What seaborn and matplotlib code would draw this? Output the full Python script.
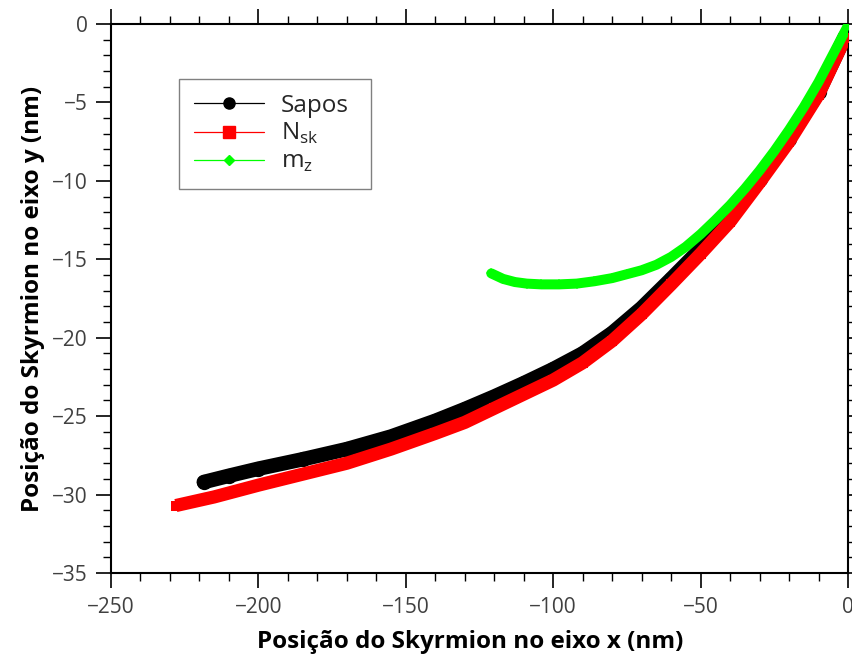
import matplotlib
matplotlib.use("Agg")
import matplotlib.pyplot as plt
from matplotlib.lines import Line2D
from matplotlib.ticker import MultipleLocator
import seaborn as sns
import pandas as pd

# ---- data ----
sapos_x = [-218.5, -210, -200, -185, -170, -155, -140, -130, -120, -110, -100,
           -90, -80, -70, -60, -50, -40, -30, -20, -10, -1]
sapos_y = [-29.2, -28.8, -28.35, -27.75, -27.1, -26.3, -25.3, -24.55, -23.75, -22.9, -22.0,
           -21.0, -19.7, -18.1, -16.25, -14.35, -12.35, -9.85, -7.3, -4.35, -0.8]

nsk_x = [-228, -215, -200, -185, -170, -155, -140, -130, -120, -110, -100,
         -90, -80, -70, -60, -50, -40, -30, -20, -10, -1]
nsk_y = [-30.7, -30.15, -29.4, -28.7, -28.0, -27.1, -26.1, -25.4, -24.5, -23.6, -22.7,
         -21.6, -20.2, -18.5, -16.6, -14.65, -12.6, -10.1, -7.5, -4.5, -0.9]

mz_x = [-121, -117, -113, -109, -104, -98, -92, -86, -80, -75, -70, -65, -60,
        -55, -50, -45, -40, -35, -30, -25, -20, -15, -10, -5, 0]
mz_y = [-15.9, -16.25, -16.45, -16.55, -16.6, -16.6, -16.55, -16.4, -16.2, -15.95,
        -15.7, -15.35, -14.85, -14.2, -13.4, -12.5, -11.55, -10.5, -9.35, -8.1, -6.75,
        -5.3, -3.7, -1.9, -0.1]

labels = ["Sapos", r"N$_\mathregular{sk}$", r"m$_\mathregular{z}$"]
x_ticks = [-250, -200, -150, -100, -50, 0]
y_ticks = [-35, -30, -25, -20, -15, -10, -5, 0]

# ---- style ----
sns.set_style("ticks")
plt.rcParams["font.family"] = ["Open Sans", "DejaVu Sans"]
plt.rcParams["mathtext.fontset"] = "custom"
plt.rcParams["mathtext.rm"] = "Open Sans"

fig = plt.figure(figsize=(8.53, 6.64), dpi=100)
ax = fig.add_axes([111 / 853, 1 - 573 / 664, (848 - 111) / 853, (573 - 24) / 664])

df_s = pd.DataFrame({"x": sapos_x, "y": sapos_y})
df_n = pd.DataFrame({"x": nsk_x, "y": nsk_y})
df_m = pd.DataFrame({"x": mz_x, "y": mz_y})

sns.lineplot(data=df_s, x="x", y="y", sort=False, estimator=None, ax=ax,
             color="black", linewidth=10.5, marker="o", markersize=11,
             markeredgewidth=0, solid_capstyle="round", zorder=2)
sns.lineplot(data=df_n, x="x", y="y", sort=False, estimator=None, ax=ax,
             color="#ff0000", linewidth=9.5, marker="s", markersize=7.5,
             markeredgewidth=0, solid_capstyle="butt", zorder=3)
sns.lineplot(data=df_m, x="x", y="y", sort=False, estimator=None, ax=ax,
             color="#00ff00", linewidth=7.2, marker="D", markersize=5,
             markeredgewidth=0, solid_capstyle="round", zorder=4)

ax.set_xlim(-250, 0)
ax.set_ylim(-35, 0)
ax.set_xticks(x_ticks)
ax.set_yticks(y_ticks)
ax.xaxis.set_minor_locator(MultipleLocator(10))
ax.yaxis.set_minor_locator(MultipleLocator(1))

for s in ax.spines.values():
    s.set_visible(True)
    s.set_linewidth(1.5)
    s.set_color("black")

ax.tick_params(which="major", direction="out", length=11, width=1.2,
               color="black", labelsize=15, labelcolor="#404040",
               top=True, right=True, labeltop=False, labelright=False, pad=6)
ax.tick_params(which="minor", direction="out", length=5.5, width=1.0,
               color="black", top=True, right=True)

ax.set_xlabel("Posição do Skyrmion no eixo x (nm)", fontsize=17.5,
              fontweight="bold", color="black", labelpad=9)
ax.set_ylabel("Posição do Skyrmion no eixo y (nm)", fontsize=17.5,
              fontweight="bold", color="black", labelpad=5)
ax.xaxis.label.set_x(0.487)

handles = [
    Line2D([], [], color="black", lw=0.9, marker="o", markersize=8),
    Line2D([], [], color="#ff0000", lw=0.9, marker="s", markersize=8),
    Line2D([], [], color="#00ff00", lw=0.9, marker="D", markersize=5.5),
]
x0 = (179 - 111) / 737
w = (371 - 179) / 737
ytop = 1 - (79 - 24) / 549
h = (185 - 79) / 549
leg = ax.legend(handles, labels, loc="upper left",
                bbox_to_anchor=(x0, ytop - h, w, h), mode="expand",
                borderaxespad=0, fontsize=17.5, frameon=True, fancybox=False,
                edgecolor="#808080", framealpha=1, handlelength=2.9,
                handletextpad=0.7, labelspacing=0.15, borderpad=0.6)
leg.get_frame().set_linewidth(1.0)

fig.savefig("out.png", dpi=100)
